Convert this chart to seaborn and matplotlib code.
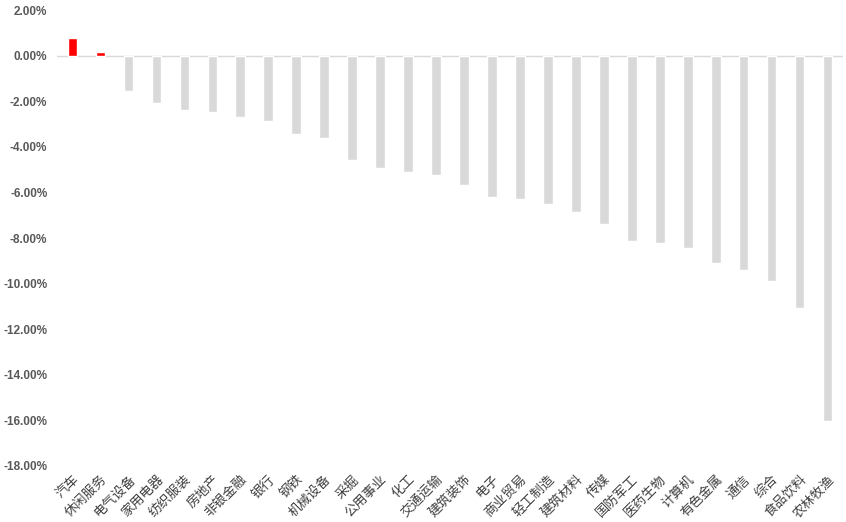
import matplotlib
matplotlib.use("Agg")
import matplotlib.pyplot as plt
import seaborn as sns
import pandas as pd

categories = ["汽车", "休闲服务", "电气设备", "家用电器", "纺织服装", "房地产", "非银金融", "银行",
              "钢铁", "机械设备", "采掘", "公用事业", "化工", "交通运输", "建筑装饰", "电子",
              "商业贸易", "轻工制造", "建筑材料", "传媒", "国防军工", "医药生物", "计算机",
              "有色金属", "通信", "综合", "食品饮料", "农林牧渔"]
values = [0.79, 0.18, -1.53, -2.06, -2.37, -2.46, -2.68, -2.85,
          -3.42, -3.60, -4.60, -4.91, -5.09, -5.22, -5.66, -6.18,
          -6.27, -6.49, -6.84, -7.37, -8.11, -8.20, -8.46,
          -9.08, -9.39, -9.87, -11.05, -16.01]
y_ticks = [2, 0, -2, -4, -6, -8, -10, -12, -14, -16, -18]

sns.set_theme(style="white")
plt.rcParams['font.family'] = ['Noto Sans CJK SC', 'DejaVu Sans']

df = pd.DataFrame({"cat": categories, "val": values})
palette = {c: ("#FF0000" if v > 0 else "#D9D9D9") for c, v in zip(categories, values)}

fig = plt.figure(figsize=(8.46, 5.22), dpi=100)
ax = fig.add_axes([0.0674, 0.1073, 0.9291, 0.8735])
sns.barplot(data=df, x="cat", y="val", hue="cat", palette=palette, legend=False,
            width=0.34, ax=ax, saturation=1)
ax.set_ylim(-18, 2)
ax.set_xlim(-0.55, len(categories) - 0.45)
ax.axhline(0, color="#D9D9D9", lw=1, zorder=0)
ax.set_yticks(y_ticks)
ax.set_yticklabels([f"{t:.2f}%" for t in y_ticks], family="Liberation Sans",
                   fontsize=8.5, color="#595959", fontweight="bold")
ax.set_xticks(range(len(categories)))
ax.set_xticklabels(categories, rotation=45, ha="right", rotation_mode="anchor",
                   fontsize=9.5, color="#404040")
ax.tick_params(axis="x", length=0, pad=5)
ax.tick_params(axis="y", length=0, pad=7)
ax.set_xlabel("")
ax.set_ylabel("")
for s in ax.spines.values():
    s.set_visible(False)
fig.savefig("out.png", dpi=100)
